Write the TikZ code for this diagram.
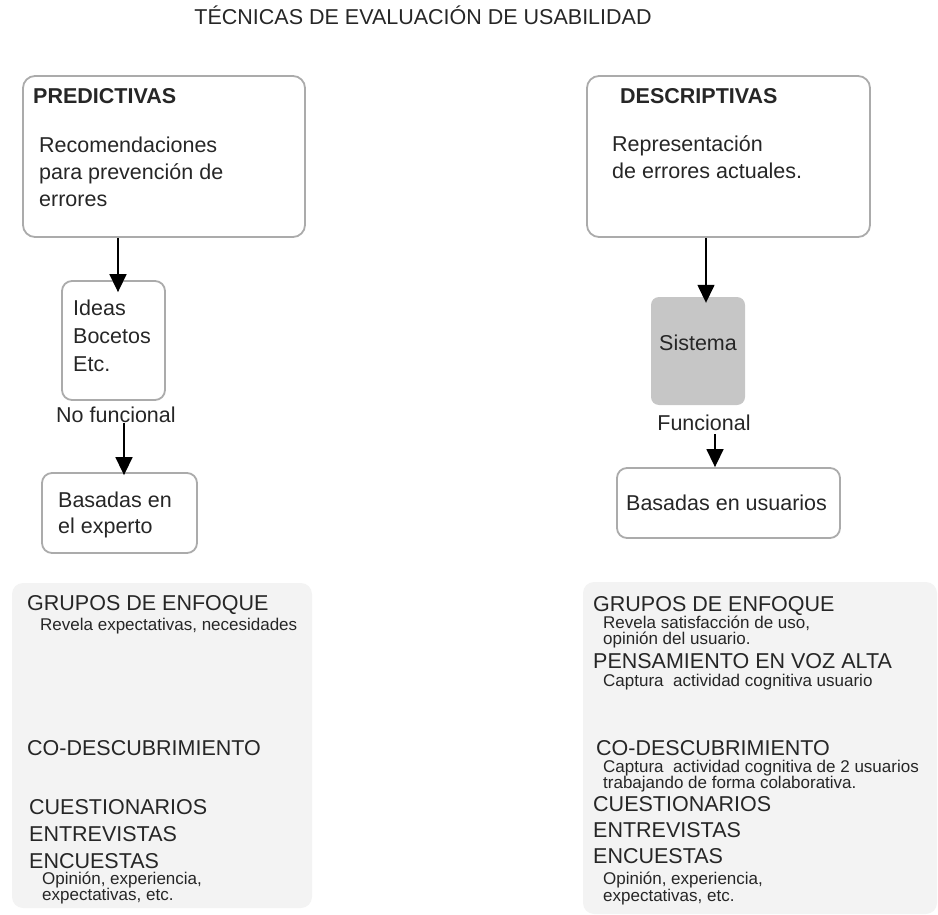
\documentclass[tikz,border=0pt]{standalone}
\usepackage{fontspec}
\setmainfont{Liberation Sans}
\usetikzlibrary{arrows.meta}
\definecolor{txt}{HTML}{262626}
\definecolor{framegray}{HTML}{ABABAB}
\definecolor{panelfill}{HTML}{F3F3F3}
\definecolor{sysfill}{HTML}{C6C6C6}

\tikzset{
  bigtxt/.style={font=\fontsize{21.5}{27}\selectfont, text=txt, inner sep=0pt, anchor=base west},
  hdrtxt/.style={font=\fontsize{21.5}{27}\selectfont\bfseries, text=txt, inner sep=0pt, anchor=base west},
  smalltxt/.style={font=\fontsize{17}{17}\selectfont, text=txt, inner sep=0pt, anchor=base west},
  framebox/.style={draw=framegray, line width=1.8pt, rounded corners=12pt, inner sep=0pt},
  smallbox/.style={framebox, rounded corners=10pt},
  sysbox/.style={fill=sysfill, rounded corners=8pt, inner sep=0pt},
  panel/.style={fill=panelfill, rounded corners=11pt, inner sep=0pt},
  arr/.style={line width=1.5pt, -{Triangle[length=18pt,width=17pt]}},
}

\begin{document}
\begin{tikzpicture}[x=1pt,y=-1pt]
\useasboundingbox (0,0) rectangle (938,915);

% title
\node[bigtxt, anchor=base] (title) at (423,25) {TÉCNICAS DE EVALUACIÓN DE USABILIDAD};

% ---- left column: predictive techniques ----
\node[framebox, minimum width=282pt, minimum height=161pt] (pred) at (164,156.5) {};
\node[hdrtxt] (predT) at (33,104) {PREDICTIVAS};
\node[bigtxt] (predA) at (39,153) {Recomendaciones};
\node[bigtxt] (predB) at (39,180) {para prevención de};
\node[bigtxt] (predC) at (39,207) {errores};

\node[smallbox, minimum width=103pt, minimum height=119pt] (ideas) at (113.5,340.5) {};
\node[bigtxt] (ideasA) at (73,315) {Ideas};
\node[bigtxt] (ideasB) at (73,343) {Bocetos};
\node[bigtxt] (ideasC) at (73,371) {Etc.};

\node[bigtxt] (nofunc) at (56,422) {No funcional};

\node[smallbox, minimum width=155pt, minimum height=80pt] (bexp) at (119.5,513) {};
\node[bigtxt] (bexpA) at (58,507) {Basadas en};
\node[bigtxt] (bexpB) at (58,533) {el experto};

\draw[arr] ([xshift=4.5pt]pred.south -| ideas.north) -- ([xshift=4.5pt,yshift=-12pt]ideas.north);
\draw[arr] ([xshift=4.5pt,yshift=-1pt]nofunc.south -| bexp.north) -- ([xshift=4.5pt,yshift=-3pt]bexp.north);

% ---- right column: descriptive techniques ----
\node[framebox, minimum width=283pt, minimum height=161pt] (desc) at (728.5,156.5) {};
\node[hdrtxt] (descT) at (620,104) {DESCRIPTIVAS};
\node[bigtxt] (descA) at (612,152) {Representación};
\node[bigtxt] (descB) at (612,179) {de errores actuales.};

\node[sysbox, minimum width=94pt, minimum height=108pt] (sys) at (698,351) {};
\node[bigtxt, anchor=base] (sysT) at (698,350) {Sistema};

\node[bigtxt, anchor=base] (func) at (704,430) {Funcional};

\node[smallbox, minimum width=223pt, minimum height=70pt] (buser) at (728.5,503) {};
\node[bigtxt] (buserT) at (626,510) {Basadas en usuarios};

\draw[arr] ([xshift=8pt]desc.south -| sys.north) -- ([xshift=8pt,yshift=-6pt]sys.north);
\draw[arr] ([xshift=11pt,yshift=-4pt]func.south) -- ([xshift=11pt]func.south |- buser.north);

% ---- bottom panels: techniques ----
\node[panel, minimum width=300pt, minimum height=325pt] (lpan) at (162,745.5) {};
\node[bigtxt] (l1) at (27,610) {GRUPOS DE ENFOQUE};
\node[smalltxt] (l1a) at (40,630) {Revela expectativas, necesidades};
\node[bigtxt] (l2) at (27,755) {CO-DESCUBRIMIENTO};
\node[bigtxt] (l3) at (29,814) {CUESTIONARIOS};
\node[bigtxt] (l4) at (29,841) {ENTREVISTAS};
\node[bigtxt] (l5) at (29,868) {ENCUESTAS};
\node[smalltxt] (l5a) at (42,884) {Opinión, experiencia,};
\node[smalltxt] (l5b) at (42,900) {expectativas, etc.};

\node[panel, minimum width=354pt, minimum height=332pt] (rpan) at (760,748) {};
\node[bigtxt] (r1) at (593,611) {GRUPOS DE ENFOQUE};
\node[smalltxt] (r1a) at (603,628) {Revela satisfacción de uso,};
\node[smalltxt] (r1b) at (603,644) {opinión del usuario.};
\node[bigtxt] (r2) at (593,668) {PENSAMIENTO EN VOZ ALTA};
\node[smalltxt] (r2a) at (603,686) {Captura\ \ actividad cognitiva usuario};
\node[bigtxt] (r3) at (596,755) {CO-DESCUBRIMIENTO};
\node[smalltxt] (r3a) at (603,772) {Captura\ \ actividad cognitiva de 2 usuarios};
\node[smalltxt] (r3b) at (603,788) {trabajando de forma colaborativa.};
\node[bigtxt] (r4) at (593,811) {CUESTIONARIOS};
\node[bigtxt] (r5) at (593,837) {ENTREVISTAS};
\node[bigtxt] (r6) at (593,863) {ENCUESTAS};
\node[smalltxt] (r6a) at (603,884) {Opinión, experiencia,};
\node[smalltxt] (r6b) at (603,901) {expectativas, etc.};
\end{tikzpicture}
\end{document}
